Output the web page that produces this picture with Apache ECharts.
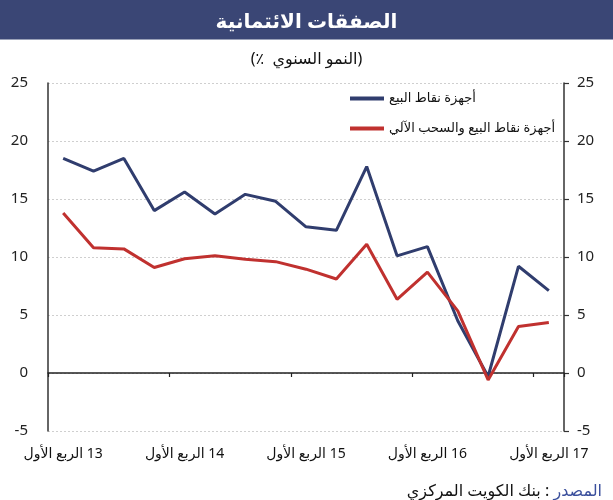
<!DOCTYPE html>
<html dir="ltr">
<head>
<meta charset="utf-8">
<script src="https://cdn.jsdelivr.net/npm/echarts@6/dist/echarts.min.js"></script>
<style>
  html, body { margin: 0; padding: 0; background: #fff; }
  #chart { width: 613px; height: 500px; }
</style>
</head>
<body>
<div id="chart"></div>
<script>
// quarters Q1 2013 .. Q1 2017
const quarters = [
  'الربع الأول 13', 'الربع الثاني 13', 'الربع الثالث 13', 'الربع الرابع 13',
  'الربع الأول 14', 'الربع الثاني 14', 'الربع الثالث 14', 'الربع الرابع 14',
  'الربع الأول 15', 'الربع الثاني 15', 'الربع الثالث 15', 'الربع الرابع 15',
  'الربع الأول 16', 'الربع الثاني 16', 'الربع الثالث 16', 'الربع الرابع 16',
  'الربع الأول 17'
]
const posValues = [18.5, 17.4, 18.5, 14.0, 15.6, 13.7, 15.4, 14.8, 12.6, 12.3, 17.8, 10.1, 10.9, 4.5, -0.3, 9.2, 7.1]
const posAtmValues = [13.8, 10.8, 10.7, 9.1, 9.85, 10.1, 9.8, 9.6, 8.95, 8.1, 11.1, 6.35, 8.7, 5.35, -0.6, 4.0, 4.35]
const seriesNames = ['أجهزة نقاط البيع', 'أجهزة نقاط البيع والسحب الآلي']
const yTicks = { min: -5, max: 25, step: 5 }

const fontFam = '"Noto Sans", "DejaVu Sans", sans-serif'
const navy = '#303d6e'
const red = '#c0312f'
const LRM = '\u200E'

const chart = echarts.init(document.getElementById('chart'))

const yAxisBase = {
  type: 'value',
  min: yTicks.min,
  max: yTicks.max,
  interval: yTicks.step,
  axisLine: { show: true, lineStyle: { color: '#333', width: 1.5 } },
  axisLabel: { fontSize: 15, color: '#222', fontFamily: fontFam }
}

const txt = (size, color) => ({ fontSize: size, color: color, fontWeight: 'normal', fontFamily: fontFam })

// split "name yy" so the year always sits on the right, whatever the bidi base
const quarterLabel = (v) => {
  const i = v.lastIndexOf(' ')
  return '{q|' + v.slice(0, i) + '}{y|' + LRM + ' ' + v.slice(i + 1) + LRM + '}'
}

chart.setOption({
  animation: false,
  textStyle: { fontFamily: fontFam },
  graphic: [
    { type: 'rect', shape: { x: 0, y: 0, width: 613, height: 39 }, style: { fill: '#3a4675' }, z: 0 },
    { type: 'rect', shape: { x: 0, y: 39, width: 613, height: 1 }, style: { fill: '#9aa1b8' }, z: 0 }
  ],
  title: [
    {
      text: 'الصفقات الائتمانية',
      left: 'center',
      top: 7,
      textStyle: { color: '#fff', fontSize: 20, fontWeight: 'bold', fontFamily: fontFam }
    },
    {
      text: '{p|' + LRM + '(' + LRM + '}{p|' + LRM + '٪  ' + LRM + '}{p|النمو السنوي}{p|' + LRM + ')' + LRM + '}',
      left: 'center',
      top: 46,
      textStyle: { fontWeight: 'normal', rich: { p: txt(16, '#111') } }
    },
    {
      text: '{b|بنك الكويت المركزي}{b|' + LRM + ' : ' + LRM + '}{a|المصدر}',
      right: 6,
      top: 478,
      textStyle: {
        fontWeight: 'normal',
        rich: { a: txt(16, '#3a4f9c'), b: txt(16, '#111') }
      }
    }
  ],
  legend: {
    orient: 'vertical',
    left: 345,
    top: 87,
    icon: 'rect',
    itemWidth: 34,
    itemHeight: 4,
    itemGap: 17,
    textStyle: { fontSize: 13, color: '#111', fontFamily: fontFam },
    data: seriesNames
  },
  grid: { left: 48, right: 49, top: 83, bottom: 69, containLabel: false },
  xAxis: [
    {
      type: 'category',
      data: quarters,
      boundaryGap: true,
      axisLine: { onZero: true, lineStyle: { color: '#222', width: 1.5 } },
      axisTick: { show: true, length: 4, lineStyle: { color: '#222', width: 1.2 } },
      axisLabel: { show: false },
      splitLine: { show: false }
    },
    {
      type: 'category',
      data: quarters,
      position: 'bottom',
      boundaryGap: true,
      axisLine: { show: false, onZero: false },
      axisTick: { show: false },
      axisLabel: {
        interval: 3,
        margin: 16,
        formatter: quarterLabel,
        rich: { q: txt(14, '#111'), y: txt(14, '#111') }
      },
      splitLine: { show: false }
    }
  ],
  yAxis: [
    Object.assign({}, yAxisBase, {
      position: 'left',
      axisTick: { show: false },
      axisLabel: Object.assign({}, yAxisBase.axisLabel, { margin: 20 }),
      splitLine: { show: true, lineStyle: { color: '#cfcfcf', type: [2, 2], width: 1 } }
    }),
    Object.assign({}, yAxisBase, {
      position: 'right',
      axisTick: { show: true, length: 5, lineStyle: { color: '#333', width: 1.2 } },
      axisLabel: Object.assign({}, yAxisBase.axisLabel, { margin: 13 }),
      splitLine: { show: false }
    })
  ],
  series: [
    {
      name: seriesNames[0],
      type: 'line',
      data: posValues,
      xAxisIndex: 0,
      yAxisIndex: 0,
      symbol: 'none',
      lineStyle: { color: navy, width: 3 },
      itemStyle: { color: navy },
      z: 3
    },
    {
      name: seriesNames[1],
      type: 'line',
      data: posAtmValues,
      xAxisIndex: 0,
      yAxisIndex: 0,
      symbol: 'none',
      lineStyle: { color: red, width: 3 },
      itemStyle: { color: red },
      z: 4
    }
  ]
})
</script>
</body>
</html>
